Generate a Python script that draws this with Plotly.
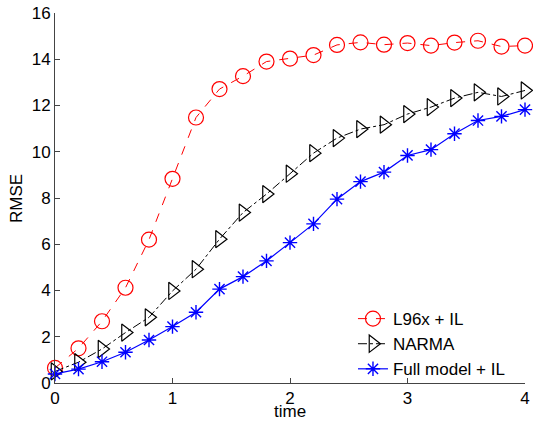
import plotly.graph_objects as go

time = [0, 0.2, 0.4, 0.6, 0.8, 1.0, 1.2, 1.4, 1.6, 1.8, 2.0, 2.2, 2.4, 2.6, 2.8, 3.0, 3.2, 3.4, 3.6, 3.8, 4.0]
l96x_il = [0.65, 1.5, 2.67, 4.12, 6.2, 8.83, 11.48, 12.71, 13.27, 13.9, 14.03, 14.18, 14.62, 14.73, 14.63, 14.7, 14.59, 14.72, 14.8, 14.55, 14.59]
narma = [0.5, 0.9, 1.47, 2.18, 2.84, 3.98, 4.92, 6.22, 7.37, 8.17, 9.05, 9.94, 10.59, 10.98, 11.17, 11.63, 11.93, 12.32, 12.57, 12.39, 12.65]
full_il = [0.39, 0.6, 0.92, 1.33, 1.86, 2.44, 3.06, 4.06, 4.6, 5.28, 6.07, 6.88, 7.95, 8.71, 9.12, 9.84, 10.09, 10.78, 11.35, 11.53, 11.82]

font = "Liberation Sans, Arial, Helvetica, sans-serif"
tf = dict(family=font, size=17, color="#000000")

fig = go.Figure()
fig.add_trace(go.Scatter(x=time, y=l96x_il, name="L96x + IL", mode="lines+markers", cliponaxis=False,
                         line=dict(color="#ff0000", width=1, dash="dash"),
                         marker=dict(symbol="circle-open", size=15, color="#ff0000", line=dict(width=1.2))))
fig.add_trace(go.Scatter(x=time, y=narma, name="NARMA", mode="lines+markers", cliponaxis=False,
                         line=dict(color="#000000", width=1, dash="dashdot"),
                         marker=dict(symbol="triangle-right-open", size=15, color="#000000", line=dict(width=1.2))))
fig.add_trace(go.Scatter(x=time, y=full_il, name="Full model + IL", mode="lines+markers", cliponaxis=False,
                         line=dict(color="#0000ff", width=1.2),
                         marker=dict(symbol="asterisk-open", size=12, color="#0000ff", line=dict(width=1.4, color="#0000ff"))))

fig.update_layout(
    width=533, height=423,
    margin=dict(l=55, r=8, t=13, b=40, autoexpand=False),
    paper_bgcolor="white", plot_bgcolor="white",
    font=tf,
    showlegend=True,
    legend=dict(x=0.634, y=-0.011, xanchor="left", yanchor="bottom",
                bgcolor="rgba(255,255,255,0)", borderwidth=0,
                font=tf, tracegroupgap=0, itemwidth=30),
    annotations=[
        dict(text="time", x=0.5, y=-0.106, xref="paper", yref="paper", xanchor="center", yanchor="bottom",
             showarrow=False, font=tf, borderpad=0),
        dict(text="RMSE", x=-0.083, y=0.5, xref="paper", yref="paper", xanchor="center", yanchor="middle",
             textangle=-90, showarrow=False, font=tf),
    ],
)
fig.update_xaxes(range=[0, 4], dtick=1, tick0=0, ticks="inside", ticklen=5, tickcolor="#444",
                 tickfont=tf, automargin=False,
                 showline=True, linecolor="#444", linewidth=1, showgrid=False, zeroline=False)
fig.update_yaxes(range=[0, 16], dtick=2, tick0=0, ticks="inside", ticklen=5, tickcolor="#444",
                 tickfont=tf, automargin=False,
                 showline=True, linecolor="#444", linewidth=1, showgrid=False, zeroline=False)

fig.write_html("out.html", config={"displayModeBar": False},
               post_script="document.body.style.margin='0';")
